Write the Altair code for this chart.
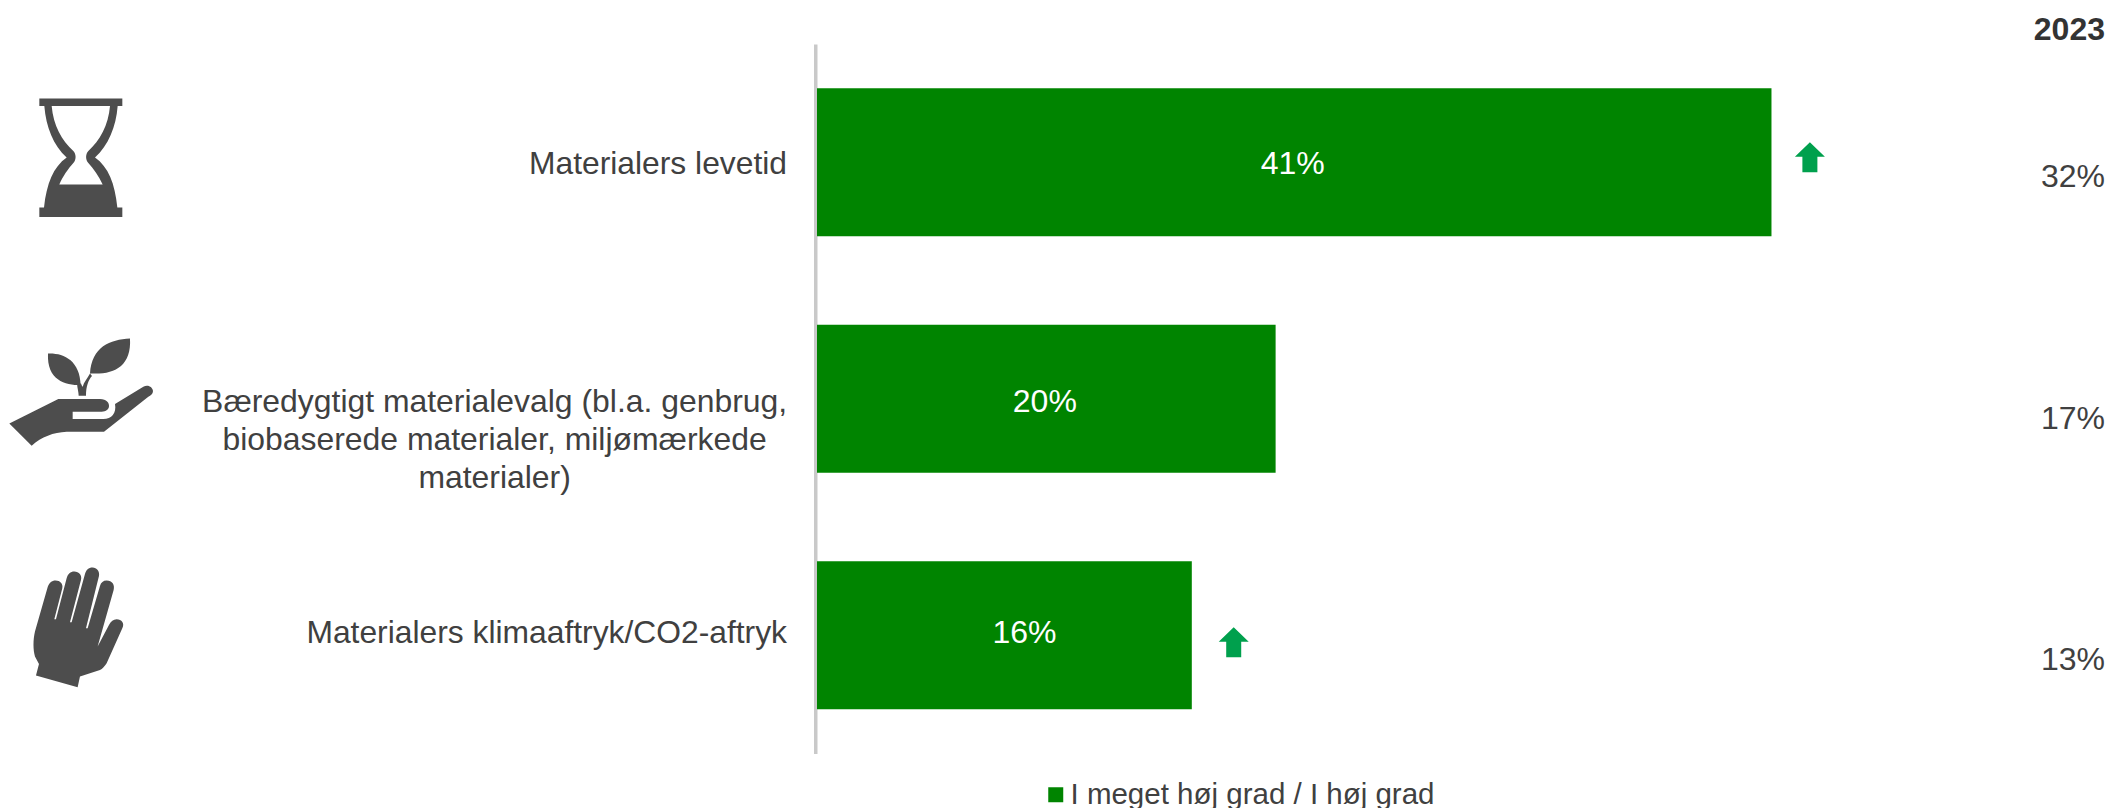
import re
import altair as alt
import pandas as pd

categories = ["Materialers levetid",
              "Bæredygtigt materialevalg (bl.a. genbrug, biobaserede materialer, miljømærkede materialer)",
              "Materialers klimaaftryk/CO2-aftryk"]
values_2024 = [41, 19.7, 16.1]
labels_2024 = ["41%", "20%", "16%"]
labels_2023 = ["32%", "17%", "13%"]
wrapped_label = ["Bæredygtigt materialevalg (bl.a. genbrug,",
                 "biobaserede materialer, miljømærkede",
                 "materialer)"]
series_name = "I meget høj grad / I høj grad"
column_title = "2023"
arrow_rows = [categories[0], categories[2]]
arrow_values = [42.65, 17.9]

GREEN = "#008400"
ARROW = "#00A04D"
ICON = "#4D4D4D"
TEXT = "#404040"
FONT = "Liberation Sans"
PLOT_W, PLOT_H = 1280, 709.5


def shape(path, cx, cy):
    """Path drawn on a 3x crop; returns it in px around (cx, cy)."""
    def conv(m):
        return f"{(float(m[1]) - cx) / 3:.2f},{(float(m[2]) - cy) / 3:.2f}"
    return re.sub(r"(-?[\d.]+),(-?[\d.]+)", conv, path)


HOURGLASS = shape(
    "M28,25 L277,25 L277,47 L28,47 Z M28,352 L277,352 L277,380 L28,380 Z "
    "M43,47 C48,110 70,165 110,202 C70,230 50,280 42,352 L262,352 "
    "C255,280 235,230 195,202 C235,165 258,110 263,47 Z "
    "M65,47 L240,47 C235,105 210,150 175,182 C166,192 166,208 175,218 "
    "C190,235 207,258 218,283 L88,283 C98,258 115,235 130,218 "
    "C139,208 139,192 130,182 C95,150 70,105 65,47 Z", 153, 204)
PLANT = shape(
    "M28,280 L175,207 L300,207 C320,207 328,220 327,228 C327,238 318,245 305,245 "
    "L218,245 L218,267 L310,267 C335,267 350,250 345,222 L430,170 "
    "C445,162 458,172 459,183 C459,192 452,197 445,200 L312,305 L200,305 "
    "C160,307 125,320 95,347 Z "
    "M144,70 C190,68 240,90 242,165 C195,165 140,150 144,70 Z "
    "M390,25 C330,28 275,50 270,130 C340,135 395,110 390,25 Z "
    "M236,197 C236,185 232,175 231,160 L243,160 C245,165 247,170 248,170 "
    "C252,155 262,145 270,130 L276,138 C265,150 258,170 258,197 Z", 243, 185)
HAND = shape(
    "M33,347 L158,382 L165,350 L225,330 C232,328 240,318 245,310 L292,205 "
    "C300,190 290,178 275,178 C265,178 258,185 252,195 L218,260 L266,90 "
    "C270,75 262,62 245,62 C235,62 228,68 225,78 L188,205 L183,205 L222,48 "
    "C225,35 215,23 203,23 C190,23 184,30 180,42 L140,187 L135,187 L168,60 "
    "C172,47 162,35 148,35 C136,35 129,42 125,55 L93,178 L88,178 L112,85 "
    "C115,72 105,62 92,62 C80,62 72,70 68,82 L30,215 C24,240 24,270 30,290 "
    "L42,312 Z", 163, 205)
ARROW_PATH = "M0,-15 L15,-0.5 L7.5,-0.5 L7.5,15 L-7.5,15 L-7.5,-0.5 L-15,-0.5 Z"

x_scale = alt.Scale(domain=[0, PLOT_W / 23.28], nice=False, zero=False)
y_scale = alt.Scale(domain=categories, paddingInner=0.374, paddingOuter=0.187)
y_axis = alt.Axis(labels=False, ticks=False, grid=False, title=None, domain=True,
                  domainColor="#C9C9C9", domainWidth=3.5, offset=1.75)
X = lambda f: alt.X(f, type="quantitative", scale=x_scale, axis=None)
Y_ENC = alt.Y("cat:N", scale=y_scale, axis=y_axis, title=None)

df = pd.DataFrame({"cat": categories, "value": values_2024,
                   "series": [series_name] * 3})

bars = alt.Chart(df).mark_bar().encode(
    x=X("value"),
    y=Y_ENC,
    color=alt.Color("series:N", scale=alt.Scale(domain=[series_name], range=[GREEN]),
                    legend=alt.Legend(orient="none", legendX=224, legendY=736, title=None,
                                      symbolType="square", symbolSize=225, symbolStrokeWidth=0,
                                      labelFontSize=29.5, labelFont=FONT, labelColor=TEXT,
                                      labelLimit=600, labelOffset=0, padding=0,
                                      symbolOpacity=1)),
)


def text(row, content, x_px=None, x_val=None, **mark):
    frame = pd.DataFrame({"cat": [categories[row]], "t": [content], "v": [x_val]})
    m = dict(font=FONT, fontSize=32, color=TEXT, baseline="middle")
    m.update(mark)
    enc = dict(y=Y_ENC, text=alt.Text("t:N"))
    enc["x"] = alt.value(x_px) if x_px is not None else X("v")
    return alt.Chart(frame).mark_text(**m).encode(**enc)


def point(row, path, fill, x_px=None, x_val=None, dy=0):
    frame = pd.DataFrame({"cat": [row], "v": [x_val]})
    enc = dict(y=Y_ENC)
    enc["x"] = alt.value(x_px) if x_px is not None else X("v")
    return alt.Chart(frame).mark_point(shape=path, size=4, filled=True, fill=fill, stroke=None,
                                       strokeWidth=0, opacity=1, yOffset=dy).encode(**enc)


layers = [bars]
# value labels inside the bars
for i, (dx, dy) in enumerate([(-1.5, 2), (-1.5, 3), (20, -2)]):
    layers.append(text(i, labels_2024[i], x_val=values_2024[i] / 2, color="white",
                       align="center", dx=dx, dy=dy))
# category labels
layers.append(text(0, categories[0], x_px=-30, align="right", dy=2, fontSize=31.8))
layers.append(text(1, wrapped_label, x_px=-322.4, align="center", dy=3, lineHeight=38, fontSize=31.9))
layers.append(text(2, categories[2], x_px=-30, align="right", dy=-2, fontSize=31.8))
# 2023 column
for i, dy in enumerate([14.5, 20.5, 25]):
    layers.append(text(i, labels_2023[i], x_px=1256, align="center", dy=dy))
layers.append(alt.Chart(pd.DataFrame({"t": [column_title]})).mark_text(
    font=FONT, fontSize=32, fontWeight="bold", color="#333333", baseline="middle", align="right"
).encode(x=alt.value(1288), y=alt.value(-14.5), text="t:N"))
# trend arrows
layers.append(point(arrow_rows[0], ARROW_PATH, ARROW, x_val=arrow_values[0], dy=-5))
layers.append(point(arrow_rows[1], ARROW_PATH, ARROW, x_val=arrow_values[1], dy=7))
# icons
layers.append(point(categories[0], HOURGLASS, ICON, x_px=81 - 817, dy=-4))
layers.append(point(categories[1], PLANT, ICON, x_px=81 - 817, dy=-7))
layers.append(point(categories[2], HAND, ICON, x_px=79.3 - 817, dy=-7))

chart = alt.layer(*layers).properties(
    width=PLOT_W, height=PLOT_H,
    padding={"left": 809, "top": 36, "right": 8, "bottom": 54.5},
    autosize=alt.AutoSizeParams(type="none"),
    background="white",
).configure_view(stroke=None)

chart.save("out.html", embed_options={"renderer": "svg", "actions": False})
